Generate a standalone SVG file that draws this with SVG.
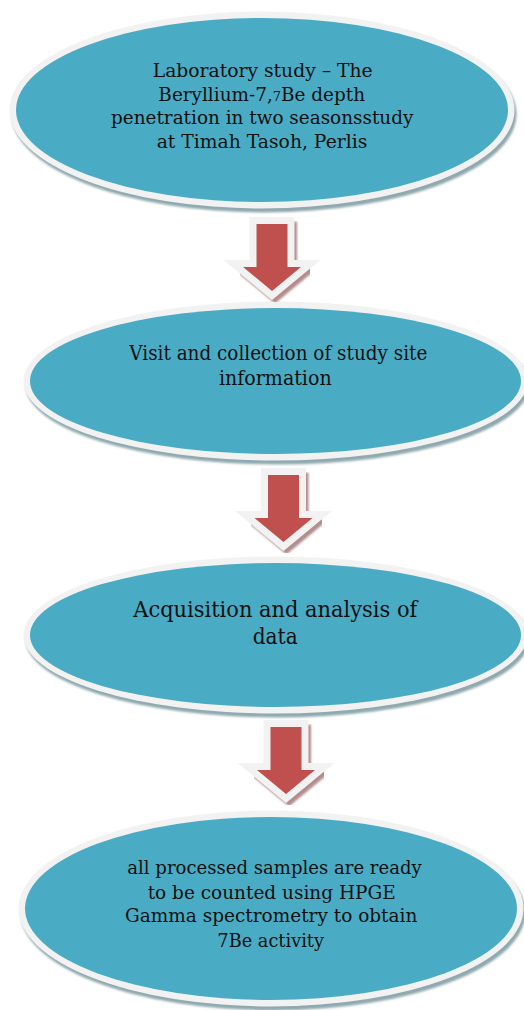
<svg xmlns="http://www.w3.org/2000/svg" xmlns:xlink="http://www.w3.org/1999/xlink" width="524" height="1010" viewBox="0 0 524 1010">
  <style>
    .shadow { fill: #8fa9af; filter: url(#soft); }
    .rim { fill: #f2f2f2; }
    .body { fill: #4aabc5; }
    .label { font-family: "DejaVu Serif", "Liberation Serif", serif; fill: #111111; text-anchor: middle; }
    .ashadow { fill: #b48c8c; stroke: #b48c8c; stroke-width: 13; stroke-linejoin: miter; stroke-miterlimit: 10; filter: url(#soft); }
    .aborder { fill: #f2f2f2; stroke: #f2f2f2; stroke-width: 14; stroke-linejoin: miter; stroke-miterlimit: 10; }
    .afill { fill: #c0504d; }
  </style>
  <defs>
    <filter id="soft" x="-10%" y="-10%" width="120%" height="120%">
      <feGaussianBlur stdDeviation="0.8"/>
    </filter>
    <!-- block arrow pointing down, origin at top centre of the shaft -->
    <path id="arrow" d="M-15.5,0 H15.5 V43 H29 L0,67 L-29,43 H-15.5 Z"/>
  </defs>

  <rect width="524" height="1010" fill="#ffffff"/>

  <g id="node-laboratory">
    <ellipse class="shadow" cx="264" cy="114" rx="252.5" ry="98.5"/>
    <ellipse class="rim" cx="262" cy="110" rx="252.5" ry="98.5"/>
    <ellipse class="body" cx="262" cy="110" rx="246" ry="92"/>
    <text class="label" font-size="18.5" x="262.7" y="77.3" textLength="220" lengthAdjust="spacingAndGlyphs">Laboratory study – The</text>
    <text class="label" font-size="18.5" x="261.7" y="100.8" textLength="206.7" lengthAdjust="spacingAndGlyphs">Beryllium-7,<tspan font-size="13">7</tspan>Be depth</text>
    <text class="label" font-size="18.5" x="262.2" y="124.2" textLength="302.3" lengthAdjust="spacingAndGlyphs">penetration in two seasonsstudy</text>
    <text class="label" font-size="18.5" x="262" y="147.7" textLength="210.6" lengthAdjust="spacingAndGlyphs">at Timah Tasoh, Perlis</text>
  </g>

  <g id="node-site-visit">
    <ellipse class="shadow" cx="277.5" cy="385" rx="252" ry="79.5"/>
    <ellipse class="rim" cx="275.5" cy="381" rx="252" ry="79.5"/>
    <ellipse class="body" cx="275.5" cy="381" rx="245.5" ry="73"/>
    <text class="label" font-size="19.5" x="278.3" y="360" textLength="298" lengthAdjust="spacingAndGlyphs">Visit and collection of study site</text>
    <text class="label" font-size="19.5" x="275.3" y="385" textLength="112.7" lengthAdjust="spacingAndGlyphs">information</text>
  </g>

  <g id="node-acquisition">
    <ellipse class="shadow" cx="277.5" cy="639" rx="252" ry="78.5"/>
    <ellipse class="rim" cx="275.5" cy="635" rx="252" ry="78.5"/>
    <ellipse class="body" cx="275.5" cy="635" rx="245.5" ry="72"/>
    <text class="label" font-size="22" x="275.3" y="617.3" textLength="284" lengthAdjust="spacingAndGlyphs">Acquisition and analysis of</text>
    <text class="label" font-size="22" x="275.2" y="644" textLength="45" lengthAdjust="spacingAndGlyphs">data</text>
  </g>

  <g id="node-counting">
    <ellipse class="shadow" cx="273" cy="912.5" rx="252.5" ry="98"/>
    <ellipse class="rim" cx="271" cy="908.5" rx="252.5" ry="98"/>
    <ellipse class="body" cx="271" cy="908.5" rx="246" ry="91.5"/>
    <text class="label" font-size="19" x="274.5" y="874" textLength="294.4" lengthAdjust="spacingAndGlyphs">all processed samples are ready</text>
    <text class="label" font-size="19" x="271.7" y="899" textLength="248" lengthAdjust="spacingAndGlyphs">to be counted using HPGE</text>
    <text class="label" font-size="19" x="271.2" y="921.7" textLength="292.3" lengthAdjust="spacingAndGlyphs">Gamma spectrometry to obtain</text>
    <text class="label" font-size="19" x="270.7" y="946.7" textLength="106.7" lengthAdjust="spacingAndGlyphs">7Be activity</text>
  </g>

  <g id="connectors">
    <g id="arrow-1">
      <use xlink:href="#arrow" class="ashadow" transform="translate(275,228)"/>
      <use xlink:href="#arrow" class="aborder" transform="translate(272,224)"/>
      <use xlink:href="#arrow" class="afill" transform="translate(272,224)"/>
    </g>
    <g id="arrow-2">
      <use xlink:href="#arrow" class="ashadow" transform="translate(286.5,479)"/>
      <use xlink:href="#arrow" class="aborder" transform="translate(283.5,475)"/>
      <use xlink:href="#arrow" class="afill" transform="translate(283.5,475)"/>
    </g>
    <g id="arrow-3">
      <use xlink:href="#arrow" class="ashadow" transform="translate(289,731)"/>
      <use xlink:href="#arrow" class="aborder" transform="translate(286,727)"/>
      <use xlink:href="#arrow" class="afill" transform="translate(286,727)"/>
    </g>
  </g>
</svg>
